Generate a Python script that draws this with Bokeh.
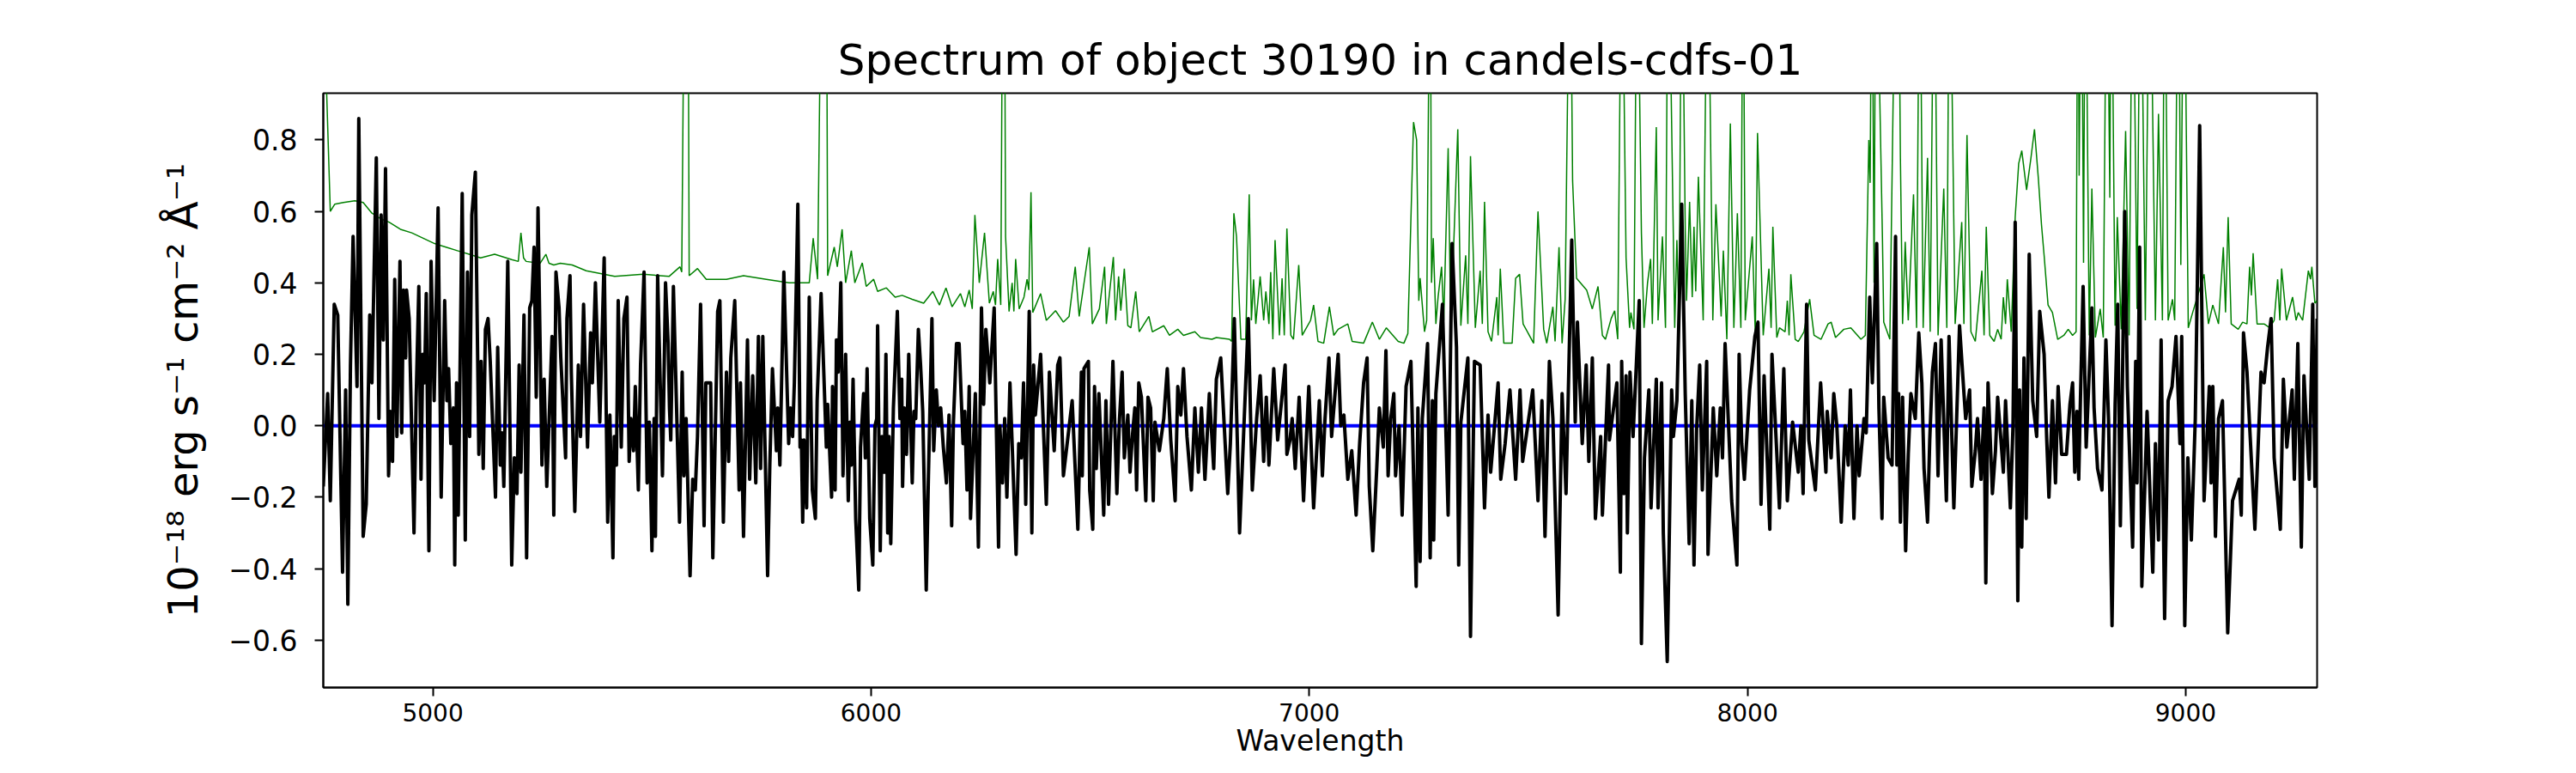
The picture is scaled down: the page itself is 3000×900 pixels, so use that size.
from bokeh.plotting import figure
from bokeh.models import Range1d, FixedTicker
from bokeh.embed import file_html
from bokeh.resources import INLINE

FONT = "DejaVu Sans"

title_text = "Spectrum of object 30190 in candels-cdfs-01"
x_label = "Wavelength"
y_label = "10\u207b\u00b9\u2078 erg s\u207b\u00b9 cm\u207b\u00b2 \u00c5\u207b\u00b9"

x_ticks = [5000, 6000, 7000, 8000, 9000]
y_ticks = [-0.6, -0.4, -0.2, 0.0, 0.2, 0.4, 0.6, 0.8]
y_tick_labels = ["\u22120.6", "\u22120.4", "\u22120.2", "0.0", "0.2", "0.4", "0.6", "0.8"]

# observed spectrum (black)
black_wave = [
    4750, 4760, 4766, 4775, 4783, 4794, 4801, 4806, 4812, 4818,
    4827, 4831, 4841, 4848, 4856, 4861, 4871, 4877, 4882, 4887,
    4892, 4899, 4903, 4908, 4913, 4918, 4925, 4929, 4933, 4938,
    4940, 4946, 4957, 4962, 4968, 4973, 4977, 4981, 4985, 4991,
    4996, 5003, 5012, 5019, 5027, 5032, 5036, 5041, 5047, 5050,
    5054, 5058, 5067, 5074, 5079, 5084, 5089, 5097, 5105, 5110,
    5115, 5120, 5126, 5131, 5143, 5148, 5154, 5158, 5162, 5171,
    5180, 5186, 5192, 5197, 5201, 5208, 5214, 5221, 5226, 5231,
    5236, 5240, 5249, 5254, 5260, 5272, 5276, 5281, 5288, 5292,
    5303, 5306, 5313, 5316, 5324,
    5332, 5337, 5344, 5353, 5360, 5364, 5371, 5381, 5391, 5399,
    5404, 5411, 5414, 5419, 5423, 5430, 5436, 5443, 5448, 5452,
    5458, 5462, 5469, 5474, 5482, 5489, 5494, 5500, 5505, 5508,
    5513, 5524, 5531, 5537, 5540, 5543, 5549, 5563, 5569, 5573,
    5578, 5587, 5593, 5599, 5604, 5611, 5619, 5623, 5634, 5639,
    5650, 5655, 5663, 5670, 5675, 5680, 5689, 5699, 5702, 5709,
    5718, 5723, 5730, 5737, 5743, 5748, 5753, 5764, 5769, 5775,
    5784, 5787, 5792, 5801, 5812, 5816, 5821, 5825, 5833, 5838,
    5841, 5844, 5847, 5853, 5859, 5866, 5873, 5877, 5886,
    5898, 5901, 5910, 5912, 5918, 5921, 5925, 5931, 5936, 5942,
    5948, 5952, 5955, 5959, 5965, 5972, 5976, 5983, 5987, 5991,
    5997, 6004, 6009, 6013, 6015, 6021, 6025, 6030, 6034, 6038,
    6041, 6045, 6051, 6060, 6066, 6070, 6072, 6076, 6081, 6086,
    6094, 6098, 6102, 6108, 6113, 6118, 6126, 6131, 6135, 6139,
    6143, 6149, 6154, 6159, 6165, 6172, 6178, 6184, 6188, 6195,
    6201, 6210, 6214, 6219, 6224, 6227, 6238, 6245, 6252, 6257,
    6262, 6271, 6281, 6291, 6294, 6300, 6305, 6310, 6317, 6331,
    6337, 6343, 6348, 6353, 6361, 6367, 6371, 6375, 6387, 6400,
    6407, 6418, 6426, 6431, 6439,
    6459, 6472, 6480, 6482, 6486, 6496, 6499, 6506, 6510, 6514,
    6520, 6531, 6536, 6542, 6552, 6561, 6567, 6573, 6578, 6586,
    6591, 6597, 6602, 6606, 6611, 6617, 6627, 6632, 6638, 6644,
    6648, 6658, 6668, 6676, 6684, 6694, 6700, 6707, 6713, 6721,
    6731, 6739, 6747, 6754, 6762, 6772, 6782, 6788, 6798, 6814,
    6820, 6829, 6841, 6861, 6870, 6880, 6888, 6896, 6902, 6908,
    6919, 6928, 6945, 6949, 6956, 6961, 6968, 6977, 6987, 6999,
    7010,
    7023, 7030, 7036, 7045, 7051, 7066, 7072, 7079, 7088, 7097,
    7107, 7115, 7124, 7132, 7137, 7145, 7154, 7160, 7169, 7175,
    7180, 7186, 7193, 7197, 7205, 7212, 7221, 7232, 7244, 7248,
    7253, 7258, 7270, 7276, 7281, 7284, 7289, 7304, 7317, 7326,
    7336, 7341, 7346, 7362, 7368, 7377, 7390, 7400, 7408, 7414,
    7431, 7437, 7447, 7458, 7471, 7481, 7487, 7510, 7522, 7531,
    7538, 7548, 7556, 7568, 7577, 7586,
    7599, 7607, 7612, 7623, 7632, 7638, 7646, 7653, 7665, 7669,
    7683, 7685, 7702, 7710, 7713, 7718, 7723, 7726, 7732, 7739,
    7753, 7758, 7765, 7775, 7780, 7792, 7796, 7804, 7808, 7817,
    7827, 7831, 7839, 7850, 7858, 7867, 7873, 7878, 7884, 7891,
    7897, 7907, 7910, 7922, 7930, 7938, 7943, 7949, 7964, 7976,
    7981, 7987, 7993, 8005, 8017, 8024, 8031, 8038, 8051, 8056,
    8073, 8083, 8091, 8103, 8116, 8122, 8127, 8135, 8140,
    8155, 8167, 8179, 8182, 8191, 8197, 8204, 8214, 8223, 8230,
    8235, 8243, 8250, 8255, 8266, 8271, 8279, 8285, 8295, 8300,
    8307, 8311, 8321, 8330, 8338, 8341, 8345, 8349, 8354, 8361,
    8367, 8373, 8383, 8391, 8398, 8403, 8411, 8416, 8422, 8429,
    8435, 8442, 8454, 8460, 8471, 8484, 8493, 8498, 8507, 8512,
    8520, 8525, 8533, 8540, 8544, 8549, 8559, 8566, 8571, 8584,
    8589, 8600, 8606, 8611, 8617, 8621, 8626, 8631, 8636, 8643,
    8651, 8660, 8667, 8677, 8683, 8688, 8696, 8703, 8709, 8717,
    8728, 8736, 8742, 8747, 8752, 8756, 8760, 8766, 8773, 8786,
    8791, 8799, 8809, 8818, 8824, 8832, 8839, 8845, 8851, 8856,
    8861, 8867, 8879, 8886, 8889, 8895, 8900, 8912, 8925, 8931,
    8938, 8944, 8952, 8960, 8969, 8978, 8987, 8991, 8998, 9005,
    9013, 9022, 9032, 9042, 9054, 9058, 9062, 9068, 9075, 9084,
    9096, 9107, 9122, 9127, 9132, 9140, 9146, 9158, 9172, 9179,
    9187, 9195, 9202, 9216, 9223, 9231, 9243, 9248, 9256, 9264,
    9270, 9282, 9290, 9295, 9300,
]
black_flux = [
    -0.17, 0.09, -0.21, 0.34, 0.31, -0.41, 0.10, -0.50, 0.17, 0.53,
    0.11, 0.86, -0.31, -0.22, 0.31, 0.12, 0.75, 0.02, 0.59, 0.24,
    0.72, -0.14, 0.04, -0.10, 0.41, -0.03, 0.46, -0.02, 0.38, 0.19,
    0.38, 0.30, -0.30, 0.08, 0.39, -0.15, 0.20, 0.12, 0.37, -0.35,
    0.46, 0.07, 0.61, -0.20, 0.35, 0.07, 0.16, -0.05, 0.05, -0.39,
    0.12, -0.25, 0.65, -0.32, 0.43, -0.03, 0.59, 0.71, -0.08, 0.18,
    -0.12, 0.27, 0.30, 0.18, -0.20, 0.22, -0.11, -0.02, -0.17, 0.46,
    -0.39, -0.09, -0.19, 0.17, -0.13, 0.31, -0.37, 0.33, 0.35, 0.50,
    0.08, 0.61, -0.11, 0.13, -0.17, 0.25, -0.25, 0.43, 0.33, 0.19,
    -0.09, 0.30, 0.42, 0.15, -0.24,
    0.17, -0.03, 0.34, -0.06, 0.26, 0.12, 0.40, 0.01, 0.47, -0.27,
    0.03, -0.37, -0.03, -0.11, 0.35, -0.06, 0.30, 0.36, -0.10, 0.02,
    -0.07, 0.11, -0.18, 0.17, 0.43, -0.16, 0.01, -0.35, 0.02, -0.31,
    0.42, -0.14, 0.40, 0.23, 0.05, -0.04, 0.39, -0.27, 0.15, -0.14,
    0.02, -0.42, -0.15, -0.18, -0.03, 0.34, -0.28, 0.12, 0.12, -0.37,
    0.32, 0.35, -0.27, 0.15, -0.10, 0.19, 0.35, -0.18, 0.12, -0.31,
    0.24, -0.15, 0.14, -0.16, 0.25, -0.12, 0.25, -0.42, -0.11, 0.16,
    -0.07, 0.05, -0.11, 0.43, -0.05, 0.05, -0.03, 0.12, 0.62, -0.06,
    -0.04, -0.27, -0.04, -0.23, 0.36, -0.18, -0.26, 0.07, 0.37,
    -0.06, 0.06, -0.20, 0.11, -0.18, 0.24, 0.15, 0.40, -0.14, 0.20,
    -0.21, 0.01, -0.11, 0.13, -0.26, -0.46, -0.06, 0.09, -0.09, 0.16,
    -0.26, -0.39, 0.00, 0.02, 0.28, -0.35, -0.03, -0.13, 0.20, -0.30,
    -0.03, -0.33, 0.05, 0.32, 0.02, 0.13, -0.17, 0.05, -0.08, 0.20,
    -0.16, 0.04, 0.02, 0.27, 0.17, 0.04, -0.46, -0.14, 0.08, 0.30,
    -0.07, 0.10, 0.00, 0.05, -0.06, -0.16, 0.03, -0.28, 0.01, 0.23,
    0.23, -0.05, 0.04, -0.18, 0.11, -0.26, 0.09, -0.34, 0.33, 0.06,
    0.27, 0.12, 0.33, -0.34, 0.00, -0.16, 0.02, -0.20, 0.12, -0.36,
    -0.05, -0.09, 0.12, -0.22, 0.32, -0.30, 0.17, 0.03, 0.20, -0.22,
    0.15, -0.07, 0.17, 0.19, -0.14,
    0.07, -0.29, 0.15, -0.14, 0.16, 0.18, -0.18, -0.29, 0.11, -0.12,
    0.09, -0.25, 0.07, -0.22, 0.18, -0.19, 0.02, 0.15, -0.09, 0.03,
    -0.13, -0.02, 0.05, -0.18, 0.12, 0.08, -0.21, 0.08, 0.05, -0.21,
    0.01, -0.07, 0.02, 0.16, -0.04, -0.21, 0.11, 0.03, 0.16, -0.03,
    -0.18, 0.05, -0.13, 0.05, -0.15, 0.09, -0.12, 0.13, 0.19, -0.19,
    -0.05, 0.30, -0.30, 0.30, -0.18, 0.02, 0.14, -0.10, 0.08, -0.11,
    0.16, -0.04, 0.17, -0.08, -0.04, 0.02, -0.12, 0.08, -0.21, 0.11,
    -0.23,
    0.07, -0.14, 0.02, 0.19, -0.03, 0.20, 0.00, 0.03, -0.15, -0.07,
    -0.25, -0.05, 0.12, 0.19, -0.17, -0.35, -0.12, 0.05, -0.06, 0.21,
    -0.14, 0.02, 0.09, -0.14, 0.00, -0.25, 0.11, 0.18, -0.45, 0.05,
    -0.38, 0.02, 0.23, -0.37, 0.07, -0.32, 0.09, 0.34, -0.25, 0.51,
    0.22, -0.39, 0.01, 0.19, -0.59, 0.18, 0.17, -0.23, 0.03, -0.13,
    0.12, -0.15, -0.05, 0.10, -0.15, 0.10, -0.10, 0.10, -0.21, 0.07,
    -0.31, 0.18, 0.02, -0.53, 0.09, -0.19,
    0.52, 0.01, 0.29, -0.05, 0.17, -0.10, 0.19, -0.26, -0.03, -0.25,
    0.17, -0.04, 0.12, -0.41, 0.18, -0.19, 0.14, -0.30, 0.15, -0.03,
    0.35, -0.61, -0.09, 0.10, -0.23, 0.13, -0.23, 0.12, -0.30, -0.66,
    0.10, -0.03, 0.07, 0.62, 0.09, -0.33, 0.07, -0.39, -0.01, 0.17,
    -0.18, 0.18, -0.36, 0.05, -0.14, 0.05, -0.09, 0.23, -0.21, -0.39,
    0.20, -0.05, -0.15, 0.10, 0.25, 0.29, -0.22, 0.14, -0.29, 0.20,
    -0.23, 0.16, -0.21, 0.01, -0.13, 0.00, -0.19, 0.34, -0.04,
    -0.18, 0.12, -0.13, 0.04, -0.09, 0.09, 0.00, -0.27, 0.00, -0.11,
    0.10, -0.26, 0.00, -0.14, 0.02, -0.02, 0.36, 0.12, 0.51, 0.05,
    -0.26, 0.08, -0.09, -0.11, 0.53, -0.11, 0.09, -0.27, 0.08, -0.35,
    -0.08, 0.09, 0.02, 0.26, 0.12, -0.12, -0.27, -0.04, 0.15, 0.23,
    -0.14, 0.24, -0.21, 0.25, -0.23, 0.28, 0.11, 0.02, 0.10, -0.17,
    -0.07, 0.02, -0.15, 0.05, -0.44, 0.12, -0.19, -0.07, 0.08, -0.13,
    0.07, -0.23, 0.00, 0.57, -0.49, 0.10, -0.34, 0.19, -0.26, 0.48,
    0.07, -0.03, 0.32, 0.20, -0.04, -0.20, 0.07, -0.16, 0.11, -0.08,
    -0.08, 0.06, 0.12, -0.13, 0.04, -0.15, 0.08, 0.39, -0.06, 0.33,
    0.05, -0.12, -0.18, 0.24, 0.02, -0.56, 0.06, 0.34, -0.28, 0.14,
    0.60, 0.11, -0.34, 0.18, -0.16, 0.50, -0.45, 0.04, -0.41, -0.05,
    -0.32, 0.24, -0.54, 0.07, 0.11, 0.25, -0.05, 0.25, -0.56, -0.09,
    -0.32, 0.02, 0.84, -0.21, 0.11, -0.16, 0.11, -0.31, 0.02, 0.07,
    -0.58, -0.21, -0.15, -0.25, 0.26, 0.15, 0.00, -0.29, 0.15, 0.12,
    0.22, 0.30, -0.09, -0.29, 0.13, -0.06, 0.10, -0.15, 0.23, -0.34,
    0.14, -0.15, 0.34, -0.17, 0.30,
]

# noise / sky spectrum (green)
green_wave = [
    4750, 4756, 4766, 4776, 4796, 4822, 4841, 4861, 4880, 4900,
    4926, 4952, 4978, 5004, 5030, 5056, 5083, 5109, 5141, 5180,
    5195, 5201, 5207, 5213, 5245, 5258, 5265, 5276, 5291, 5318,
    5350, 5415, 5480, 5539, 5564, 5568, 5575, 5582, 5585, 5604,
    5624, 5670, 5709, 5761, 5813, 5859, 5868, 5878, 5888, 5898,
    5901, 5916, 5923, 5934, 5942, 5955, 5963, 5980, 5989, 6006,
    6015, 6035, 6055, 6071, 6094, 6120, 6141, 6156, 6171, 6185,
    6204, 6214, 6224, 6231, 6237, 6247, 6259, 6270, 6279, 6284,
    6289, 6296, 6301, 6304, 6307, 6315, 6322, 6326, 6330, 6338,
    6349, 6356, 6360, 6365, 6369, 6387, 6400, 6421, 6439, 6452,
    6466, 6475, 6498, 6505, 6521, 6533, 6537, 6544, 6553, 6558,
    6565, 6570, 6578, 6586, 6593, 6604, 6612, 6634, 6642, 6668,
    6681, 6700, 6713, 6739, 6752, 6778, 6788, 6818, 6823, 6828,
    6834, 6844, 6855, 6863, 6868, 6873, 6878, 6888, 6896, 6901,
    6908, 6912, 6917, 6922, 6932, 6938, 6943, 6949, 6958, 6964,
    6976, 6984, 7003, 7010, 7020, 7033, 7046, 7056, 7066, 7088,
    7098, 7124, 7144, 7160, 7176, 7203, 7216, 7225, 7238, 7245,
    7250, 7253, 7263, 7268, 7276, 7279, 7283, 7289, 7294, 7302,
    7307, 7317, 7323, 7339, 7346, 7357, 7362, 7368, 7379, 7390,
    7395, 7400, 7408, 7416, 7428, 7431, 7436, 7444, 7463, 7471,
    7480, 7488, 7512, 7522, 7535, 7542, 7556, 7561, 7570, 7577,
    7584, 7595, 7601, 7610, 7633, 7646, 7659, 7669, 7676, 7689,
    7697, 7704, 7713, 7723, 7731, 7734, 7741, 7748, 7758, 7764,
    7772, 7779, 7783, 7792, 7796, 7806, 7813, 7819, 7834, 7839,
    7844, 7850, 7858, 7861, 7868, 7874, 7878, 7882, 7888, 7899,
    7909, 7917, 7921, 7928, 7940, 7945, 7953, 7961, 7969, 7977,
    7985, 7990, 7995, 8011, 8018, 8023, 8036, 8049, 8054, 8058,
    8067, 8073, 8086, 8091, 8095, 8099, 8109, 8116, 8129, 8142,
    8152, 8168, 8184, 8191, 8201, 8220, 8236, 8259, 8269, 8277,
    8280, 8284, 8289, 8293, 8308, 8311, 8325, 8339, 8344, 8349,
    8354, 8360, 8367, 8379, 8386, 8393, 8401, 8411, 8417, 8426,
    8435, 8448, 8455, 8461, 8474, 8489, 8494, 8501, 8510, 8520,
    8535, 8540, 8545, 8553, 8563, 8571, 8579, 8584, 8589, 8593,
    8602, 8611, 8619, 8626, 8637, 8647, 8655, 8664, 8671, 8677,
    8686, 8696, 8708, 8722, 8732, 8742, 8750, 8754, 8757, 8762,
    8767, 8771, 8780, 8786, 8794, 8805, 8812, 8820, 8827, 8830,
    8839, 8844, 8853, 8863, 8871, 8879, 8889, 8897, 8908, 8918,
    8931, 8938, 8947, 8952, 8960, 8970, 8975, 8983, 8989, 8996,
    9006, 9016, 9042, 9052, 9062, 9075, 9086, 9091, 9097, 9104,
    9120, 9130, 9140, 9146, 9150, 9154, 9163, 9179, 9192, 9202,
    9210, 9215, 9219, 9230, 9244, 9252, 9257, 9267, 9280, 9285,
    9288, 9295, 9300,
]
green_flux = [
    1.2, 1.0, 0.60, 0.62, 0.625, 0.63, 0.625, 0.595, 0.58, 0.57,
    0.55, 0.54, 0.525, 0.51, 0.50, 0.49, 0.48, 0.47, 0.48, 0.465,
    0.46, 0.54, 0.47, 0.46, 0.455, 0.48, 0.455, 0.45, 0.455, 0.45,
    0.434, 0.418, 0.424, 0.418, 0.445, 0.43, 1.5, 1.5, 0.42, 0.44,
    0.41, 0.41, 0.42, 0.41, 0.40, 0.40, 0.525, 0.41, 1.5, 1.5,
    0.42, 0.50, 0.445, 0.55, 0.40, 0.49, 0.40, 0.456, 0.39, 0.41,
    0.376, 0.386, 0.36, 0.365, 0.354, 0.343, 0.376, 0.338, 0.386, 0.333,
    0.37, 0.333, 0.38, 0.327, 0.59, 0.40, 0.54, 0.343, 0.376, 0.338,
    0.467, 0.338, 1.5, 1.5, 0.53, 0.32, 0.40, 0.32, 0.467, 0.327,
    0.36, 0.41, 0.38, 0.654, 0.317, 0.37, 0.295, 0.322, 0.29, 0.306,
    0.445, 0.306, 0.50, 0.285, 0.327, 0.445, 0.285, 0.37, 0.472, 0.295,
    0.418, 0.322, 0.44, 0.28, 0.274, 0.376, 0.263, 0.306, 0.263, 0.28,
    0.253, 0.27, 0.253, 0.263, 0.247, 0.242, 0.247, 0.242, 0.236, 0.595,
    0.53, 0.242, 0.242, 0.648, 0.295, 0.41, 0.285, 0.418, 0.295, 0.376,
    0.285, 0.43, 0.242, 0.52, 0.253, 0.413, 0.253, 0.552, 0.253, 0.242,
    0.45, 0.253, 0.295, 0.338, 0.236, 0.231, 0.333, 0.253, 0.27, 0.285,
    0.236, 0.231, 0.29, 0.242, 0.274, 0.236, 0.231, 0.258, 0.85, 0.80,
    0.35, 0.413, 0.263, 0.295, 1.5, 0.40, 0.525, 0.285, 0.36, 0.445,
    0.295, 0.777, 0.274, 0.83, 0.28, 0.477, 0.285, 0.755, 0.274, 0.434,
    0.285, 0.627, 0.263, 0.236, 0.36, 0.253, 0.44, 0.231, 0.231, 0.413,
    0.424, 0.285, 0.231, 0.60, 0.27, 0.231, 0.333, 0.236, 0.50, 0.231,
    0.354, 1.5, 0.686, 0.413, 0.38, 0.327, 0.39, 0.253, 0.242, 0.30,
    0.322, 0.242, 1.5, 0.47, 0.274, 0.317, 0.27, 1.5, 0.54, 0.274,
    0.40, 0.467, 0.285, 0.836, 0.295, 0.53, 0.274, 1.5, 0.274, 0.52,
    0.285, 1.5, 0.552, 0.35, 0.627, 0.36, 0.557, 0.376, 0.697, 0.295,
    1.5, 0.69, 0.295, 0.62, 0.306, 0.49, 0.242, 0.846, 0.274, 0.595,
    0.274, 1.5, 0.295, 0.53, 0.253, 0.82, 0.253, 0.44, 0.274, 0.557,
    0.247, 0.274, 0.263, 0.35, 0.253, 0.424, 0.242, 0.236, 0.263, 0.354,
    0.253, 0.242, 0.285, 0.29, 0.247, 0.27, 0.274, 0.242, 0.253, 0.80,
    0.68, 1.5, 0.40, 1.5, 0.53, 0.29, 0.242, 1.5, 1.5, 0.755,
    0.285, 0.515, 0.295, 0.648, 0.274, 1.5, 0.274, 0.75, 0.263, 1.5,
    0.253, 0.664, 0.274, 1.5, 0.285, 0.57, 0.285, 0.814, 0.263, 0.236,
    0.434, 0.253, 0.557, 0.253, 0.236, 0.27, 0.242, 0.36, 0.285, 0.41,
    0.263, 0.584, 0.734, 0.77, 0.66, 0.75, 0.83, 0.69, 0.563, 0.477,
    0.338, 0.317, 0.242, 0.253, 0.27, 0.253, 0.263, 1.5, 0.7, 1.5,
    0.456, 1.5, 0.253, 0.664, 0.247, 0.327, 0.247, 1.5, 0.638, 1.5,
    0.28, 0.584, 0.27, 0.825, 0.253, 1.5, 0.327, 1.5, 0.295, 1.5,
    0.295, 0.873, 0.295, 1.5, 0.295, 0.354, 0.295, 1.5, 0.45, 1.5,
    0.274, 0.317, 0.424, 0.285, 0.338, 0.285, 0.50, 0.317, 0.584, 0.285,
    0.27, 0.29, 0.285, 0.445, 0.365, 0.483, 0.285, 0.285, 0.274, 0.295,
    0.41, 0.295, 0.44, 0.295, 0.36, 0.295, 0.317, 0.295, 0.434, 0.41,
    0.445, 0.343, 0.35,
]

# model / continuum (blue)
blue_wave = [4750, 9300]
blue_flux = [0.0, 0.0]

n_black = min(len(black_wave), len(black_flux))
n_green = min(len(green_wave), len(green_flux))

p = figure(
    width=2984, height=884,
    output_backend="svg", toolbar_location=None,
    x_range=Range1d(4750, 9300), y_range=Range1d(-0.733, 0.931),
    min_border_left=376, min_border_right=286,
    min_border_top=108, min_border_bottom=83,
    title=title_text,
)
p.background_fill_color = "white"
p.border_fill_color = "white"
p.grid.visible = False
p.outline_line_color = "black"
p.outline_line_width = 2
p.outline_line_alpha = 1.0

p.title.text_font = FONT
p.title.text_font_size = "50px"
p.title.text_font_style = "normal"
p.title.text_color = "black"
p.title.align = "center"
p.title.standoff = 20

for ax in (p.xaxis, p.yaxis):
    ax.axis_line_width = 2
    ax.axis_line_color = "black"
    ax.major_tick_line_width = 2
    ax.major_tick_line_color = "black"
    ax.major_tick_out = 10
    ax.major_tick_in = 0
    ax.minor_tick_line_color = None
    ax.major_label_text_font = FONT
    ax.major_label_text_color = "black"
    ax.axis_label_text_font = FONT
    ax.axis_label_text_color = "black"
    ax.axis_label_text_font_style = "normal"

p.xaxis.ticker = FixedTicker(ticks=x_ticks)
p.xaxis.major_label_text_font_size = "28px"
p.xaxis.major_label_standoff = 8
p.xaxis.axis_label = x_label
p.xaxis.axis_label_text_font_size = "33px"
p.xaxis.axis_label_standoff = 0

p.yaxis.ticker = FixedTicker(ticks=y_ticks)
p.yaxis.major_label_overrides = {t: lab for t, lab in zip(y_ticks, y_tick_labels)}
p.yaxis.major_label_text_font_size = "33px"
p.yaxis.major_label_standoff = 20
p.yaxis.axis_label = y_label
p.yaxis.axis_label_text_font_size = "48px"
p.yaxis.axis_label_standoff = 22

p.line(green_wave[:n_green], green_flux[:n_green], line_color="#008000", line_width=1.5)
p.line(blue_wave, blue_flux, line_color="#0000ff", line_width=4)
p.line(black_wave[:n_black], black_flux[:n_black], line_color="black", line_width=4,
       line_join="round")

open("out.html", "w").write(file_html(p, INLINE))
